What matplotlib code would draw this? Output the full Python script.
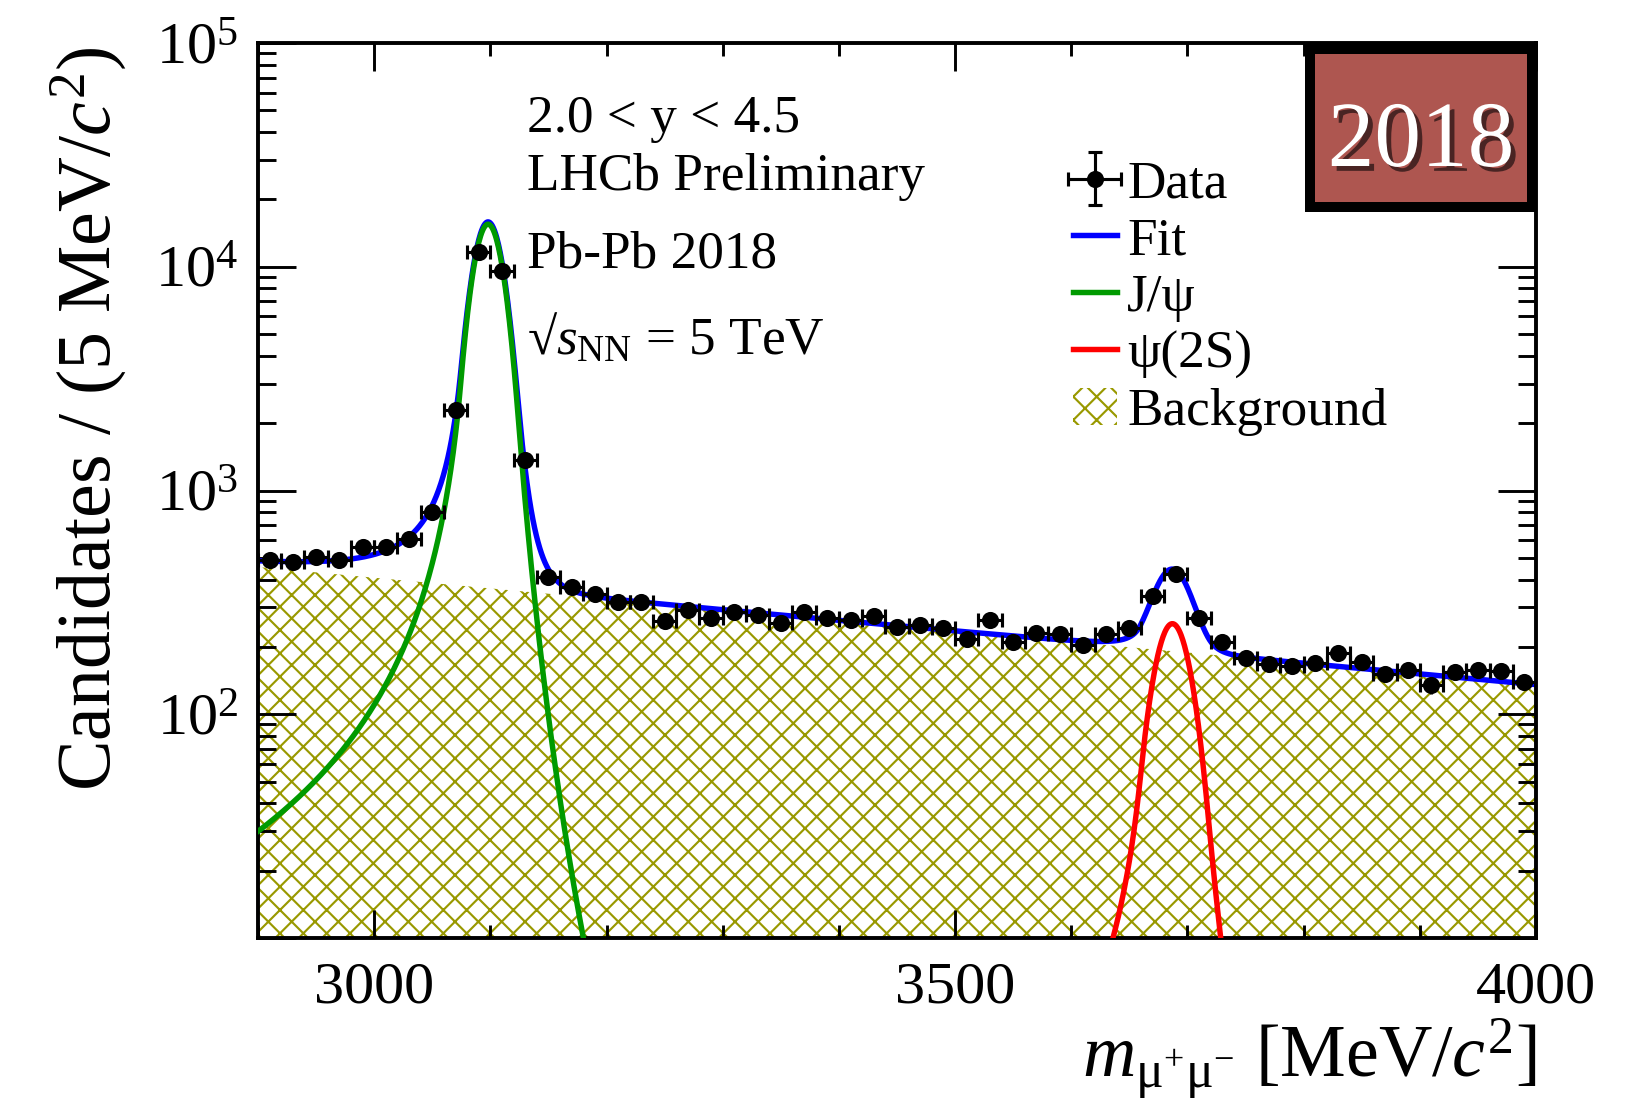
import numpy as np
import matplotlib
matplotlib.use("Agg")
import matplotlib.pyplot as plt
import matplotlib.patheffects as pe
from matplotlib.patches import Rectangle, Patch
from matplotlib.lines import Line2D
from matplotlib.collections import LineCollection
from matplotlib.container import ErrorbarContainer
from matplotlib.ticker import FixedLocator, MultipleLocator, LogLocator, FuncFormatter, NullFormatter

plt.rcParams["font.family"] = ["Liberation Serif", "DejaVu Serif"]
plt.rcParams["mathtext.fontset"] = "custom"
plt.rcParams["mathtext.rm"] = "Liberation Serif"
plt.rcParams["mathtext.it"] = "Liberation Serif:italic"
plt.rcParams["mathtext.bf"] = "Liberation Serif:bold"
plt.rcParams["hatch.linewidth"] = 1.1

# ---- dimuon invariant-mass histogram (MeV/c^2) ----
bin_width = 20
bin_centres = np.arange(2910, 4000, bin_width)
candidates = np.array([
    489, 481, 502, 489, 557, 557, 607, 805,
    2285, 11590, 9590, 1365,
    411, 372, 344, 316, 318,
    261, 293, 270, 285, 278,
    257, 285, 270, 263, 275,
    245, 250, 242, 218, 264,
    210, 230, 229, 203, 229,
    244, 338, 423, 269, 211,
    178, 167, 164, 170, 187,
    172, 151, 157, 135, 155,
    158, 156, 140,
])

# ---- fit model: two double-sided Crystal Ball peaks on an exponential background ----
jpsi_mass, jpsi_sigma, jpsi_peak = 3098.0, 13.0, 15500.0
psi2s_mass, psi2s_sigma, psi2s_peak = 3687.0, 15.5, 254.0
alpha_lo, n_lo = 1.8, 1.7
alpha_hi, n_hi = 2.0, 6.0
bkg_ref_mass, bkg_ref_value, bkg_slope = 2900.0, 455.0, -1.1e-3

legend_labels = ["Data", "Fit", "J/ψ", "ψ(2S)", "Background"]

COL_FIT = "#0000ff"
COL_JPSI = "#009a00"
COL_PSI2S = "#ff0000"
COL_BKG = "#999900"


def crystal_ball(m, mu, sigma, peak):
    t = (m - mu) / sigma
    out = np.exp(-0.5 * t ** 2)
    lo = t < -alpha_lo
    out[lo] = np.exp(-0.5 * alpha_lo ** 2) * (
        (n_lo / alpha_lo) / (n_lo / alpha_lo - alpha_lo - t[lo])) ** n_lo
    hi = t > alpha_hi
    out[hi] = np.exp(-0.5 * alpha_hi ** 2) * (
        (n_hi / alpha_hi) / (n_hi / alpha_hi - alpha_hi + t[hi])) ** n_hi
    return peak * out


mass = np.linspace(2900, 4000, 2201)
jpsi = crystal_ball(mass, jpsi_mass, jpsi_sigma, jpsi_peak)
psi2s = crystal_ball(mass, psi2s_mass, psi2s_sigma, psi2s_peak)
bkg = bkg_ref_value * np.exp(bkg_slope * (mass - bkg_ref_mass))
total = jpsi + psi2s + bkg

W, H, DPI = 1650, 1100, 140
fig = plt.figure(figsize=(W / DPI, H / DPI), dpi=DPI)
AX_L, AX_R, AX_T, AX_B = 258, 1536, 43, 938
ax = fig.add_axes([AX_L / W, 1 - AX_B / H, (AX_R - AX_L) / W, (AX_B - AX_T) / H])


def ax_frac(px, py):
    return (px - AX_L) / (AX_R - AX_L), (AX_B - py) / (AX_B - AX_T)


# background (hatched), fit components, data
ax.fill_between(mass, 1, bkg, facecolor="none", edgecolor=COL_BKG,
                hatch="xx", linewidth=0, zorder=1)
fit_line, = ax.plot(mass, total, color=COL_FIT, lw=2.8, zorder=2)
jpsi_line, = ax.plot(mass, jpsi, color=COL_JPSI, lw=2.8, zorder=3)
psi_line, = ax.plot(mass, psi2s, color=COL_PSI2S, lw=2.8, zorder=3)

MS, ELW, CAP = 7.8, 1.6, 3.8
ax.errorbar(bin_centres, candidates, yerr=np.sqrt(candidates), fmt="none",
            ecolor="black", elinewidth=ELW, zorder=5)
ax.errorbar(bin_centres, candidates, xerr=bin_width / 2, fmt="o", color="black",
            ms=MS, elinewidth=ELW, capsize=CAP, capthick=ELW, zorder=5)

# legend entry for the data points: marker with both error bars
data_handle = ErrorbarContainer(
    (Line2D([], [], ls="none", marker="o", ms=MS, color="black"),
     (Line2D([], [], ls="none", marker="_", ms=CAP * 2, mew=ELW, color="black"),
      Line2D([], [], ls="none", marker="_", ms=CAP * 2, mew=ELW, color="black")),
     (LineCollection([], colors="black", linewidths=ELW),
      LineCollection([], colors="black", linewidths=ELW))),
    has_xerr=True, has_yerr=True, label="Data")

ax.set_xlim(2900, 4000)
ax.set_yscale("log")
ax.set_ylim(10, 1e5)

ax.xaxis.set_major_locator(FixedLocator([3000, 3500, 4000]))
ax.xaxis.set_minor_locator(MultipleLocator(100))
ax.yaxis.set_major_locator(FixedLocator([1e1, 1e2, 1e3, 1e4, 1e5]))
ax.yaxis.set_minor_locator(LogLocator(base=10, subs=np.arange(2, 10), numticks=20))
ax.yaxis.set_minor_formatter(NullFormatter())
ax.yaxis.set_major_formatter(FuncFormatter(
    lambda v, p: "" if v < 50 else r"$10^{%d}$" % round(np.log10(v))))

ax.tick_params(axis="x", which="major", direction="in", length=14.4, width=1.5,
               top=True, labelsize=31, pad=12)
ax.tick_params(axis="x", which="minor", direction="in", length=6.7, width=1.5, top=True)
ax.tick_params(axis="y", which="major", direction="in", length=19.5, width=1.5,
               right=True, labelsize=31, pad=10)
ax.tick_params(axis="y", which="minor", direction="in", length=9.4, width=1.5, right=True)
for s in ax.spines.values():
    s.set_linewidth(2.0)

# axis titles
fig.text(110 / W, 1 - 47 / H, r"Candidates / (5 MeV/$c^{2}$)", rotation=90,
         rotation_mode="anchor", ha="right", va="baseline", fontsize=39)
fig.text(AX_R / W, 1 - 1077 / H, r"$m_{\mathrm{\mu^{+}\mu^{-}}}$ [MeV/$c^{2}$]",
         ha="right", va="baseline", fontsize=38)

# annotations
for txt, py in [("2.0 < y < 4.5", 132), ("LHCb Preliminary", 190),
                ("Pb-Pb 2018", 267), ("√" + r"$s_{\mathrm{NN}}$ = 5 TeV", 355)]:
    x, y = ax_frac(527, py)
    ax.text(x, y, txt, transform=ax.transAxes, fontsize=27.4, ha="left", va="baseline")

# legend
bkg_patch = Patch(facecolor="none", edgecolor=COL_BKG, hatch="xx", linewidth=0)
ax.legend([data_handle, fit_line, jpsi_line, psi_line, bkg_patch], legend_labels,
          loc="upper left", bbox_to_anchor=(1073 / W, 1 - 160 / H),
          bbox_transform=fig.transFigure, frameon=False, fontsize=27.4,
          handlelength=0.82, handletextpad=0.2, labelspacing=0.16,
          borderpad=0, borderaxespad=0)

# year badge
bx0, by0, bx1, by1, border = 1305, 44, 1537, 212, 10
fig.add_artist(Rectangle((bx0 / W, 1 - by1 / H), (bx1 - bx0) / W, (by1 - by0) / H,
                         transform=fig.transFigure, facecolor="black",
                         edgecolor="none", zorder=10))
fig.add_artist(Rectangle(((bx0 + border) / W, 1 - (by1 - border) / H),
                         (bx1 - bx0 - 2 * border) / W, (by1 - by0 - 2 * border) / H,
                         transform=fig.transFigure, facecolor="#ae5650",
                         edgecolor="none", zorder=11))
fig.text(1421 / W, 1 - 166 / H, "2018", ha="center", va="baseline", fontsize=48,
         color="white", zorder=12,
         path_effects=[pe.withSimplePatchShadow(offset=(2.5, -2.5),
                                                shadow_rgbFace="#301818", alpha=0.8)])

fig.savefig("out.png", dpi=DPI)
